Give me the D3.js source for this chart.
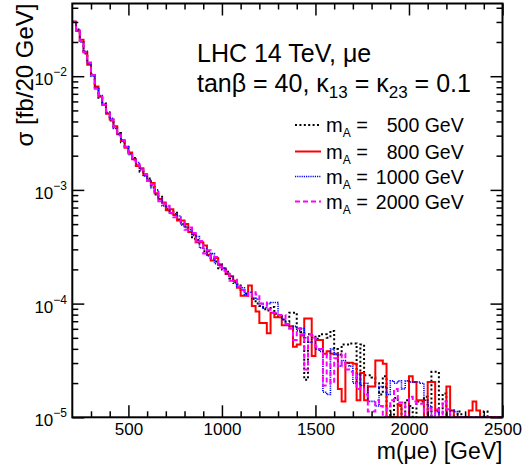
<!DOCTYPE html>
<html><head><meta charset="utf-8">
<script src="https://cdn.jsdelivr.net/npm/d3@7"></script>
<style>
body{margin:0;background:#fff}
svg{display:block}
text{font-family:"Liberation Sans",Arial,Helvetica,sans-serif;fill:#000}
</style>
</head><body>
<svg id="c" width="524" height="470"></svg>
<script>
// ---- data ----
const binWidth = 20;
const binLow = d3.range(200, 2500, binWidth);   // m(mu e) bin low edges [GeV]

const sigma500 = [
3.020e-2,2.570e-2,2.042e-2,1.585e-2,1.288e-2,1.047e-2,7.943e-3,6.457e-3,5.754e-3,4.786e-3,
4.074e-3,3.548e-3,3.162e-3,2.630e-3,2.399e-3,2.089e-3,1.905e-3,1.660e-3,1.445e-3,1.380e-3,
1.259e-3,1.096e-3,9.120e-4,8.710e-4,7.586e-4,6.761e-4,6.457e-4,6.310e-4,5.495e-4,5.012e-4,
4.786e-4,4.571e-4,3.715e-4,3.631e-4,3.388e-4,2.884e-4,2.884e-4,2.512e-4,2.344e-4,2.042e-4,
1.995e-4,1.905e-4,1.660e-4,1.549e-4,1.479e-4,1.318e-4,1.230e-4,1.175e-4,1.096e-4,1.000e-4,
9.550e-5,8.913e-5,8.710e-5,9.333e-5,8.128e-5,7.762e-5,7.244e-5,6.918e-5,8.318e-5,8.318e-5,
6.026e-5,5.623e-5,2.138e-5,5.370e-5,5.248e-5,4.898e-5,5.370e-5,5.370e-5,5.012e-5,5.754e-5,
3.981e-5,3.548e-5,4.365e-5,4.365e-5,4.467e-5,4.467e-5,1.995e-5,4.365e-5,2.344e-5,2.344e-5,
2.239e-5,1.995e-5,1.585e-5,2.291e-5,1.259e-5,0,1.479e-5,1.259e-5,0,1.413e-5,
1.259e-5,0,1.380e-5,1.380e-5,1.514e-5,0,2.512e-5,2.512e-5,0,1.622e-5,
0,1.148e-5,0,1.122e-5,0,0,0,0,0,0,
1.122e-5,0,0,0,0];

const sigma800 = [
3.020e-2,2.512e-2,2.089e-2,1.622e-2,1.259e-2,1.023e-2,8.128e-3,6.607e-3,5.623e-3,4.677e-3,
4.169e-3,3.631e-3,3.090e-3,2.692e-3,2.344e-3,2.138e-3,1.862e-3,1.622e-3,1.549e-3,1.349e-3,
1.202e-3,1.148e-3,9.333e-4,8.318e-4,7.762e-4,6.607e-4,6.761e-4,6.026e-4,5.370e-4,5.370e-4,
5.012e-4,4.266e-4,4.074e-4,3.467e-4,3.467e-4,3.236e-4,2.692e-4,2.399e-4,2.512e-4,2.188e-4,
2.042e-4,1.820e-4,1.738e-4,1.585e-4,1.380e-4,1.175e-4,1.175e-4,1.445e-4,9.550e-5,8.511e-5,
6.761e-5,6.761e-5,5.495e-5,8.318e-5,7.586e-5,7.586e-5,6.457e-5,6.457e-5,6.310e-5,4.169e-5,
4.365e-5,5.248e-5,7.413e-5,7.413e-5,3.467e-5,4.786e-5,4.786e-5,3.631e-5,3.802e-5,3.631e-5,
3.631e-5,1.778e-5,1.380e-5,3.020e-5,3.020e-5,2.951e-5,1.413e-5,2.455e-5,1.413e-5,1.862e-5,
1.862e-5,3.162e-5,3.162e-5,2.951e-5,0,0,0,1.288e-5,0,0,
2.291e-5,2.042e-5,1.413e-5,1.413e-5,0,2.042e-5,2.042e-5,1.148e-5,0,0,
1.862e-5,1.148e-5,0,0,0,0,1.148e-5,1.380e-5,1.148e-5,0,
0,0,0,0,0];

const sigma1000 = [
3.020e-2,2.512e-2,1.995e-2,1.660e-2,1.288e-2,1.000e-2,7.943e-3,6.761e-3,5.623e-3,4.786e-3,
4.266e-3,3.467e-3,3.090e-3,2.754e-3,2.399e-3,2.042e-3,1.862e-3,1.738e-3,1.514e-3,1.318e-3,
1.230e-3,1.047e-3,1.000e-3,8.318e-4,7.244e-4,7.079e-4,6.166e-4,6.166e-4,5.888e-4,4.898e-4,
4.677e-4,4.467e-4,3.981e-4,3.890e-4,3.090e-4,3.020e-4,2.630e-4,2.754e-4,2.239e-4,2.239e-4,
2.042e-4,1.820e-4,1.738e-4,1.514e-4,1.413e-4,1.380e-4,1.202e-4,1.259e-4,1.122e-4,1.096e-4,
1.000e-4,9.120e-5,1.000e-4,1.023e-4,1.023e-4,7.943e-5,7.244e-5,6.607e-5,6.026e-5,6.310e-5,
5.754e-5,6.026e-5,5.012e-5,4.571e-5,5.012e-5,3.981e-5,3.802e-5,1.660e-5,1.585e-5,3.981e-5,
3.548e-5,2.818e-5,3.162e-5,3.020e-5,2.818e-5,1.995e-5,2.399e-5,1.905e-5,1.995e-5,1.380e-5,
1.380e-5,1.259e-5,1.862e-5,1.862e-5,1.585e-5,2.089e-5,1.995e-5,2.089e-5,1.778e-5,2.089e-5,
2.042e-5,2.042e-5,2.042e-5,1.995e-5,1.413e-5,1.259e-5,0,1.122e-5,0,0,
0,1.148e-5,1.122e-5,0,0,0,0,0,0,0,
0,0,0,0,0];

const sigma2000 = [
3.020e-2,2.512e-2,2.042e-2,1.622e-2,1.318e-2,1.023e-2,7.762e-3,6.607e-3,5.623e-3,4.898e-3,
4.169e-3,3.548e-3,3.020e-3,2.754e-3,2.399e-3,2.089e-3,1.820e-3,1.660e-3,1.514e-3,1.380e-3,
1.202e-3,1.122e-3,9.550e-4,7.943e-4,7.586e-4,7.244e-4,6.310e-4,5.754e-4,5.754e-4,5.248e-4,
4.467e-4,4.677e-4,4.169e-4,3.467e-4,3.548e-4,2.754e-4,2.951e-4,2.512e-4,2.570e-4,2.089e-4,
1.950e-4,1.905e-4,1.585e-4,1.622e-4,1.413e-4,1.318e-4,1.288e-4,1.148e-4,1.259e-4,1.202e-4,
1.000e-4,1.023e-4,8.913e-5,8.318e-5,8.318e-5,7.943e-5,7.943e-5,6.607e-5,6.026e-5,4.786e-5,
6.026e-5,5.370e-5,2.630e-5,5.370e-5,5.012e-5,4.169e-5,3.981e-5,1.905e-5,3.548e-5,1.995e-5,
3.311e-5,2.818e-5,3.631e-5,2.630e-5,2.512e-5,2.399e-5,1.778e-5,1.820e-5,1.585e-5,1.122e-5,
1.122e-5,1.413e-5,1.259e-5,0,1.202e-5,1.413e-5,1.778e-5,1.349e-5,1.349e-5,0,
1.514e-5,1.380e-5,1.318e-5,1.318e-5,0,1.202e-5,0,1.175e-5,0,1.380e-5,
1.175e-5,0,0,0,0,0,0,0,0,0,
0,0,0,0,0];

const legendMasses = ["500", "800", "1000", "2000"];
const xMajorTicks = [500, 1000, 1500, 2000, 2500];
const yMajorTicks = [1e-5, 1e-4, 1e-3, 1e-2];
const yTickExponents = ["\u22125", "\u22124", "\u22123", "\u22122"];

// ---- layout ----
const svg = d3.select("#c");
const L = 72.3, R = 502.5, T = 3.5, B = 417.3;
const yMin = 1e-5, yMax = 0.0436;
const x = d3.scaleLinear().domain([200, 2500]).range([L, R]);
const y = d3.scaleLog().domain([yMin, yMax]).range([B, T]).clamp(true);

const series = [
  {vals: sigma500,  color: "#000000", width: 2,   dash: "2,2.4"},
  {vals: sigma800,  color: "#ff0000", width: 2,   dash: null},
  {vals: sigma1000, color: "#0000ff", width: 1.6, dash: "1.2,1"},
  {vals: sigma2000, color: "#ff00ff", width: 2,   dash: "5,3"}
];

svg.append("defs").append("clipPath").attr("id","clip")
  .append("rect").attr("x", L).attr("y", T).attr("width", R-L).attr("height", B-T);

const line = d3.line()
  .x(d => x(d[0]))
  .y(d => y(d[1] > 0 ? d[1] : yMin))
  .curve(d3.curveStepAfter);

const gPlot = svg.append("g").attr("clip-path","url(#clip)");
series.forEach(s => {
  const pts = binLow.map((lo, i) => [lo, s.vals[i]]);
  pts.push([binLow[binLow.length-1] + binWidth, s.vals[s.vals.length-1]]);
  gPlot.append("path").attr("d", line(pts))
    .attr("fill","none").attr("stroke", s.color).attr("stroke-width", s.width)
    .attr("stroke-dasharray", s.dash).attr("stroke-linejoin","miter");
});

// ---- axes / ticks ----
const xMinor = d3.range(300, 2500, 100).filter(v => v % 500 !== 0);
const yMinor = [];
[1e-5,1e-4,1e-3,1e-2].forEach(d => { for (let k=2;k<=9;k++){ const v=d*k; if (v<=yMax) yMinor.push(v);} });

function styleAxis(g){ g.select(".domain").remove(); g.selectAll(".tick line").attr("stroke","#000").attr("stroke-width",1.5); }

svg.append("g").attr("transform",`translate(0,${B})`)
  .call(d3.axisBottom(x).tickValues(xMajorTicks).tickSize(-12).tickPadding(6).tickFormat(d3.format("d")))
  .call(styleAxis)
  .call(g => g.selectAll("text").attr("font-size",17).attr("font-family","Liberation Sans, Arial, sans-serif"));
svg.append("g").attr("transform",`translate(0,${B})`)
  .call(d3.axisBottom(x).tickValues(xMinor).tickSize(-6).tickFormat(""))
  .call(styleAxis);
svg.append("g").attr("transform",`translate(0,${T})`)
  .call(d3.axisTop(x).tickValues(xMajorTicks).tickSize(-12).tickFormat(""))
  .call(styleAxis);
svg.append("g").attr("transform",`translate(0,${T})`)
  .call(d3.axisTop(x).tickValues(xMinor).tickSize(-6).tickFormat(""))
  .call(styleAxis);
svg.append("g").attr("transform",`translate(${L},0)`)
  .call(d3.axisLeft(y).tickValues(yMajorTicks).tickSize(-12).tickFormat(""))
  .call(styleAxis);
svg.append("g").attr("transform",`translate(${L},0)`)
  .call(d3.axisLeft(y).tickValues(yMinor).tickSize(-6).tickFormat(""))
  .call(styleAxis);
svg.append("g").attr("transform",`translate(${R},0)`)
  .call(d3.axisRight(y).tickValues(yMajorTicks).tickSize(-12).tickFormat(""))
  .call(styleAxis);
svg.append("g").attr("transform",`translate(${R},0)`)
  .call(d3.axisRight(y).tickValues(yMinor).tickSize(-6).tickFormat(""))
  .call(styleAxis);

// frame
svg.append("rect").attr("x",L).attr("y",T).attr("width",R-L).attr("height",B-T)
  .attr("fill","none").attr("stroke","#000").attr("stroke-width",2);

// y tick labels 10^n
yMajorTicks.forEach((v,i) => {
  const t = svg.append("text").attr("x", 67).attr("y", y(v) + 9)
    .attr("text-anchor","end").attr("font-size",17);
  t.append("tspan").text("10");
  t.append("tspan").attr("font-size",12).attr("dy",-9).text(yTickExponents[i]);
});

// axis titles
svg.append("text").attr("transform",`translate(33,${T}) rotate(-90)`)
  .attr("text-anchor","end").attr("font-size",24).text("\u03c3 [fb/20 GeV]");
svg.append("text").attr("x", R).attr("y", 459).attr("text-anchor","end")
  .attr("font-size",23).text("m(\u03bce) [GeV]");

// annotations
svg.append("text").attr("x",197).attr("y",62).attr("font-size",25).text("LHC 14 TeV, \u03bce");
const t2 = svg.append("text").attr("x",197).attr("y",92).attr("font-size",25);
t2.append("tspan").text("tan\u03b2 = 40, \u03ba");
t2.append("tspan").attr("font-size",17).attr("dy",6).text("13");
t2.append("tspan").attr("dy",-6).text(" = \u03ba");
t2.append("tspan").attr("font-size",17).attr("dy",6).text("23");
t2.append("tspan").attr("dy",-6).text(" = 0.1");

// legend
const rowY = [125, 151.5, 176.5, 201.5];
series.forEach((s,i) => {
  svg.append("line").attr("x1",295).attr("x2",321).attr("y1",rowY[i]).attr("y2",rowY[i])
    .attr("stroke",s.color).attr("stroke-width",s.width).attr("stroke-dasharray",s.dash);
  const t = svg.append("text").attr("x",326).attr("y",rowY[i]+7).attr("font-size",20);
  t.append("tspan").text("m");
  t.append("tspan").attr("font-size",12).attr("dy",5).text("A");
  t.append("tspan").attr("dy",-5).text(" =");
  svg.append("text").attr("x",463.7).attr("y",rowY[i]+7).attr("font-size",19.5)
    .attr("text-anchor","end").text(legendMasses[i] + " GeV");
});
</script>
</body></html>
